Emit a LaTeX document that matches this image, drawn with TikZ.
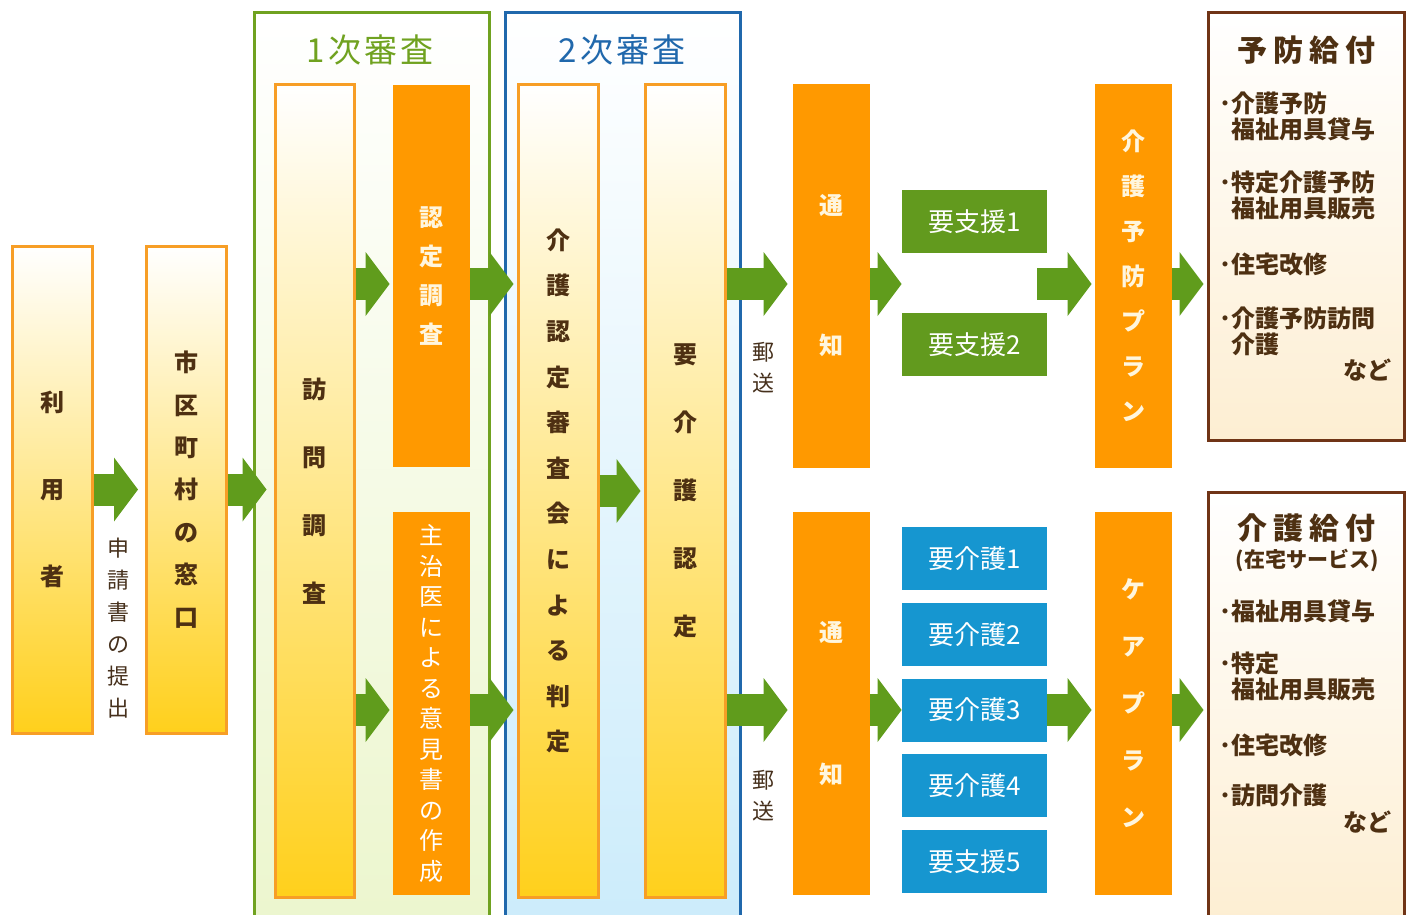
\documentclass[tikz,border=0pt]{standalone}
\usepackage{fontspec}
\setmainfont{Noto Sans CJK JP}
\usepackage{tikz}
\usetikzlibrary{arrows.meta}
\usetikzlibrary{positioning}

\definecolor{boxorange}{RGB}{247,158,38}
\definecolor{fillorange}{RGB}{255,153,0}
\definecolor{boxgold}{RGB}{255,208,28}
\definecolor{flowgreen}{RGB}{96,156,28}
\definecolor{levelgreen}{RGB}{98,154,30}
\definecolor{levelblue}{RGB}{22,150,208}
\definecolor{stagegreen}{RGB}{112,162,32}
\definecolor{stageblue}{RGB}{32,104,172}
\definecolor{benefitbrown}{RGB}{112,52,22}
\definecolor{textbrown}{RGB}{78,48,18}
\definecolor{notebrown}{RGB}{70,48,28}
\definecolor{textcream}{RGB}{255,246,222}
\definecolor{paleleaf}{RGB}{236,246,206}
\definecolor{palesky}{RGB}{204,236,251}
\definecolor{palecream}{RGB}{253,238,210}

\newcommand{\vfont}[2]{\fontsize{#1}{#2}\selectfont\bfseries}

\tikzset{
  colbox/.style={draw=boxorange, line width=1.5pt, top color=white, bottom color=boxgold,
    minimum width=40pt, inner sep=0pt, align=center, text=textbrown},
  orangecol/.style={fill=fillorange, minimum width=38.5pt, inner sep=0pt, align=center, text=textcream},
  levelbox/.style={minimum width=72.5pt, minimum height=31.5pt, inner sep=0pt, text=white,
    font=\fontsize{13}{13}\selectfont},
  stage/.style={line width=1.5pt, top color=white, minimum width=117.5pt, minimum height=456pt, inner sep=0pt},
  stagetitle/.style={font=\fontsize{16.5}{16.5}\selectfont, inner sep=0pt},
  benefit/.style={draw=benefitbrown, line width=1.5pt, top color=white, bottom color=palecream,
    minimum width=98pt, inner sep=0pt},
  benefittitle/.style={font=\fontsize{15}{15}\selectfont\bfseries, text=textbrown, inner sep=0pt},
  item/.style={font=\fontsize{12}{13}\selectfont\bfseries, text=textbrown, align=left, anchor=west, inner sep=0pt},
  note/.style={font=\fontsize{11}{15.5}\selectfont, text=notebrown, align=center, inner sep=0pt},
  flow/.style={draw=flowgreen, line width=16pt, shorten >=1.5pt,
    -{Triangle[length=12pt, width=32pt, line width=0pt]}}
}

\begin{document}
\begin{tikzpicture}[x=0.5pt, y=-0.5pt]
  \useasboundingbox[fill=white] (0,0) rectangle (1413,915);
  %% rows of the arrows
  \coordinate (uprow) at (0,284);
  \coordinate (lowrow) at (0,710);

  %% stages
  \node[stage, draw=stagegreen, bottom color=paleleaf] (first) at (371.5,469) {};
  \node[stage, draw=stageblue, bottom color=palesky] (second) at (622.5,469) {};
  \node[stagetitle, text=stagegreen] (firsttitle) at (370,50) {1\hspace{1.5pt}次\hspace{1.5pt}審\hspace{1.5pt}査};
  \node[stagetitle, text=stageblue] (secondtitle) at (622,50) {2\hspace{1.5pt}次\hspace{1.5pt}審\hspace{1.5pt}査};

  %% application
  \node[colbox, minimum height=243.5pt, font=\vfont{12}{43.5}] (user) at (52,489.5) {利\\用\\者};
  \node[colbox, minimum height=243.5pt, font=\vfont{12}{21.2}] (window) at (186.5,489.5) {市\\区\\町\\村\\の\\窓\\口};
  \node[note, font=\fontsize{11}{16}\selectfont] (apply) at (118,628) {申\\請\\書\\の\\提\\出};

  %% first and second review
  \node[colbox, minimum width=39.5pt, minimum height=406pt, font=\vfont{12}{34}] (visit) at (314.5,491) {訪\\問\\調\\査};
  \node[orangecol, minimum height=191pt, font=\vfont{12}{19.5}] (survey) at (431.5,276) {認\\定\\調\\査};
  \node[orangecol, minimum height=191.5pt, text=white, font=\fontsize{12}{15.25}\selectfont] (opinion) at (431.5,703.5)
    {主\\治\\医\\に\\よ\\る\\意\\見\\書\\の\\作\\成};
  \node[colbox, minimum height=406pt, font=\vfont{12}{22.8}] (panel) at (558,491)
    {介\\護\\認\\定\\審\\査\\会\\に\\よ\\る\\判\\定};
  \node[colbox, minimum height=406pt, font=\vfont{12}{34}] (decide) at (685,491) {要\\介\\護\\認\\定};

  %% notice
  \node[note] (maila) at (763,367.5) {郵\\送};
  \node[note] (mailb) at (763,795.5) {郵\\送};
  \node[orangecol, minimum height=192pt, font=\vfont{12}{70}] (notea) at (831.5,276) {通\\知};
  \node[orangecol, minimum height=191.5pt, font=\vfont{12}{71}] (noteb) at (831.5,703.5) {通\\知};

  %% levels
  \node[levelbox, fill=levelgreen] (sup1) at (974.5,221.5) {要支援1};
  \node[levelbox, fill=levelgreen, below=29.5pt of sup1] (sup2) {要支援2};
  \node[levelbox, fill=levelblue] (care1) at (974.5,558.5) {要介護1};
  \node[levelbox, fill=levelblue, below=6pt of care1] (care2) {要介護2};
  \node[levelbox, fill=levelblue, below=6pt of care2] (care3) {要介護3};
  \node[levelbox, fill=levelblue, below=6pt of care3] (care4) {要介護4};
  \node[levelbox, fill=levelblue, below=6pt of care4] (care5) {要支援5};

  %% plans
  \node[orangecol, minimum height=192pt, font=\vfont{12}{22.5}] (plana) at (1133.5,276) {介\\護\\予\\防\\プ\\ラ\\ン};
  \node[orangecol, minimum height=191.5pt, font=\vfont{12}{28.5}] (planb) at (1133.5,703.5) {ケ\\ア\\プ\\ラ\\ン};

  %% benefits
  \node[benefit, minimum height=213.5pt] (prevben) at (1306,226.5) {};
  \node[benefittitle] (prevtitle) at (1306,50) {予\hspace{3pt}防\hspace{3pt}給\hspace{3pt}付};
  \node[item] (pb1) at (1219,116.5) {･介護予防\\\hphantom{･}福祉用具貸与};
  \node[item] (pb2) at (1219,195) {･特定介護予防\\\hphantom{･}福祉用具販売};
  \node[item] (pb3) at (1219,264) {･住宅改修};
  \node[item] (pb4) at (1219,331) {･介護予防訪問\\\hphantom{･}介護};
  \node[item, anchor=east] (pbetc) at (1392,370) {など};

  \node[benefit, minimum height=216.5pt] (careben) at (1306,708.5) {};
  \node[benefittitle] (caretitle) at (1306,528) {介\hspace{3pt}護\hspace{3pt}給\hspace{3pt}付};
  \node[benefittitle, font=\fontsize{10.5}{10.5}\selectfont\bfseries] (caresub) at (1307,560) {(在宅サービス)};
  \node[item] (cb1) at (1219,611) {･福祉用具貸与};
  \node[item] (cb2) at (1219,676) {･特定\\\hphantom{･}福祉用具販売};
  \node[item] (cb3) at (1219,745) {･住宅改修};
  \node[item] (cb4) at (1219,795) {･訪問介護};
  \node[item, anchor=east] (cbetc) at (1392,822) {など};

  %% arrows
  \draw[flow, shorten >=3.5pt] (user) -- (window);
  \draw[flow, shorten >=3.5pt] (window.east) -- (window.east -| visit.west);
  \draw[flow] (visit.east |- uprow) -- (survey.west |- uprow);
  \draw[flow] (visit.east |- lowrow) -- (opinion.west |- lowrow);
  \draw[flow] (survey.east |- uprow) -- (panel.west |- uprow);
  \draw[flow] (opinion.east |- lowrow) -- (panel.west |- lowrow);
  \draw[flow] (panel.east) -- (panel.east -| decide.west);
  \draw[flow, shorten >=2.5pt] (decide.east |- uprow) -- (notea.west |- uprow);
  \draw[flow, shorten >=2.5pt] (decide.east |- lowrow) -- (noteb.west |- lowrow);
  \draw[flow, shorten >=0pt] (notea.east |- uprow) -- (sup1.west |- uprow);
  \draw[flow, shorten >=0pt] (noteb.east |- lowrow) -- (care3.west |- lowrow);
  \draw[flow] ([xshift=-5pt]sup1.east |- uprow) -- (plana.west |- uprow);
  \draw[flow] (care3.east |- lowrow) -- (planb.west |- lowrow);
  \draw[flow] (plana.east |- uprow) -- (prevben.west |- uprow);
  \draw[flow] (planb.east |- lowrow) -- (careben.west |- lowrow);
\end{tikzpicture}
\end{document}
